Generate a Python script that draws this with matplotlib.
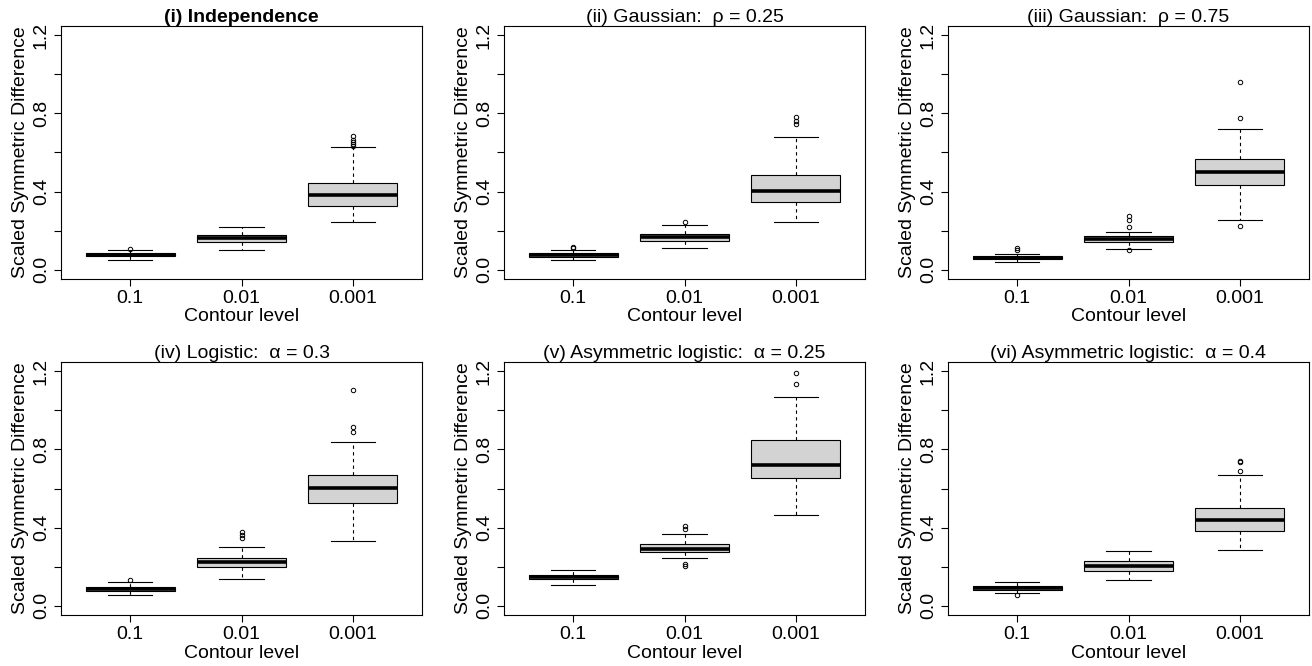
import matplotlib
matplotlib.use('Agg')
import matplotlib.pyplot as plt

plt.rcParams['font.family'] = ['Liberation Sans', 'DejaVu Sans']
plt.rcParams['font.size'] = 14

levels = ['0.1', '0.01', '0.001']
titles = ['(i) Independence', '(ii) Gaussian:  \u03c1 = 0.25', '(iii) Gaussian:  \u03c1 = 0.75',
          '(iv) Logistic:  \u03b1 = 0.3', '(v) Asymmetric logistic:  \u03b1 = 0.25',
          '(vi) Asymmetric logistic:  \u03b1 = 0.4']

# per panel, per contour level: [whislo, q1, med, q3, whishi]
indep = [[0.051, 0.068, 0.076, 0.085, 0.102],
         [0.098, 0.141, 0.161, 0.175, 0.219],
         [0.244, 0.324, 0.380, 0.446, 0.630]]
indep_out = [[0.105], [], [0.682, 0.665, 0.653, 0.643, 0.633]]

gauss25 = [[0.048, 0.066, 0.075, 0.085, 0.100],
           [0.109, 0.146, 0.166, 0.183, 0.231],
           [0.243, 0.346, 0.404, 0.484, 0.679]]
gauss25_out = [[0.115, 0.109], [0.246], [0.781, 0.760, 0.747]]

gauss75 = [[0.041, 0.053, 0.061, 0.070, 0.081],
           [0.105, 0.141, 0.156, 0.170, 0.195],
           [0.256, 0.436, 0.499, 0.567, 0.720]]
gauss75_out = [[0.109, 0.100], [0.275, 0.256, 0.217, 0.098], [0.962, 0.777, 0.226]]

logis = [[0.056, 0.073, 0.085, 0.095, 0.122],
         [0.134, 0.198, 0.224, 0.244, 0.300],
         [0.332, 0.524, 0.603, 0.669, 0.836]]
logis_out = [[0.129], [0.375, 0.363, 0.347], [1.103, 0.917, 0.890]]

alog25 = [[0.107, 0.134, 0.146, 0.158, 0.183],
          [0.242, 0.275, 0.292, 0.315, 0.369],
          [0.463, 0.654, 0.722, 0.847, 1.069]]
alog25_out = [[], [0.407, 0.395, 0.215, 0.203], [1.193, 1.137]]

alog40 = [[0.063, 0.078, 0.088, 0.098, 0.122],
          [0.132, 0.175, 0.203, 0.231, 0.281],
          [0.285, 0.380, 0.441, 0.502, 0.671]]
alog40_out = [[0.053], [], [0.742, 0.736, 0.690]]

panels = [(indep, indep_out), (gauss25, gauss25_out), (gauss75, gauss75_out),
          (logis, logis_out), (alog25, alog25_out), (alog40, alog40_out)]

W, H = 1312, 666
fig = plt.figure(figsize=(W / 100, H / 100), dpi=100)
lefts = [61, 504, 948]
tops = [26, 362]
aw, ah = 361, 253

for i, (stats, outs) in enumerate(panels):
    r, c = divmod(i, 3)
    ax = fig.add_axes([lefts[c] / W, 1 - (tops[r] + ah) / H, aw / W, ah / H])
    bstats = []
    for lab, s, o in zip(levels, stats, outs):
        bstats.append({'label': lab, 'whislo': s[0], 'q1': s[1], 'med': s[2],
                       'q3': s[3], 'whishi': s[4], 'fliers': o})
    ax.bxp(bstats, positions=[1, 2, 3], widths=0.8, capwidths=0.4, patch_artist=True,
           boxprops=dict(facecolor='#D3D3D3', edgecolor='black', linewidth=0.8),
           whiskerprops=dict(color='black', linewidth=0.8, linestyle=(0, (3, 3))),
           capprops=dict(color='black', linewidth=0.8),
           medianprops=dict(color='black', linewidth=2.6, solid_capstyle='butt'),
           flierprops=dict(marker='o', markersize=3.2, markerfacecolor='none',
                           markeredgecolor='black', markeredgewidth=0.7))
    ax.set_xlim(0.38, 3.62)
    ax.set_ylim(-0.048, 1.248)
    ax.set_yticks([0, 0.2, 0.4, 0.6, 0.8, 1.0, 1.2])
    ax.set_yticklabels(['0.0', '', '0.4', '', '0.8', '', '1.2'], rotation=90, va='center')
    ax.tick_params(length=5, width=0.8, pad=3)
    for sp in ax.spines.values():
        sp.set_linewidth(0.8)
    ax.set_xlabel('Contour level', labelpad=1)
    ax.set_ylabel('Scaled Symmetric Difference', labelpad=3)
    ax.set_title(titles[i], pad=3, fontsize=14,
                 fontweight='bold' if i == 0 else 'normal')

fig.savefig('out.png', dpi=100)
